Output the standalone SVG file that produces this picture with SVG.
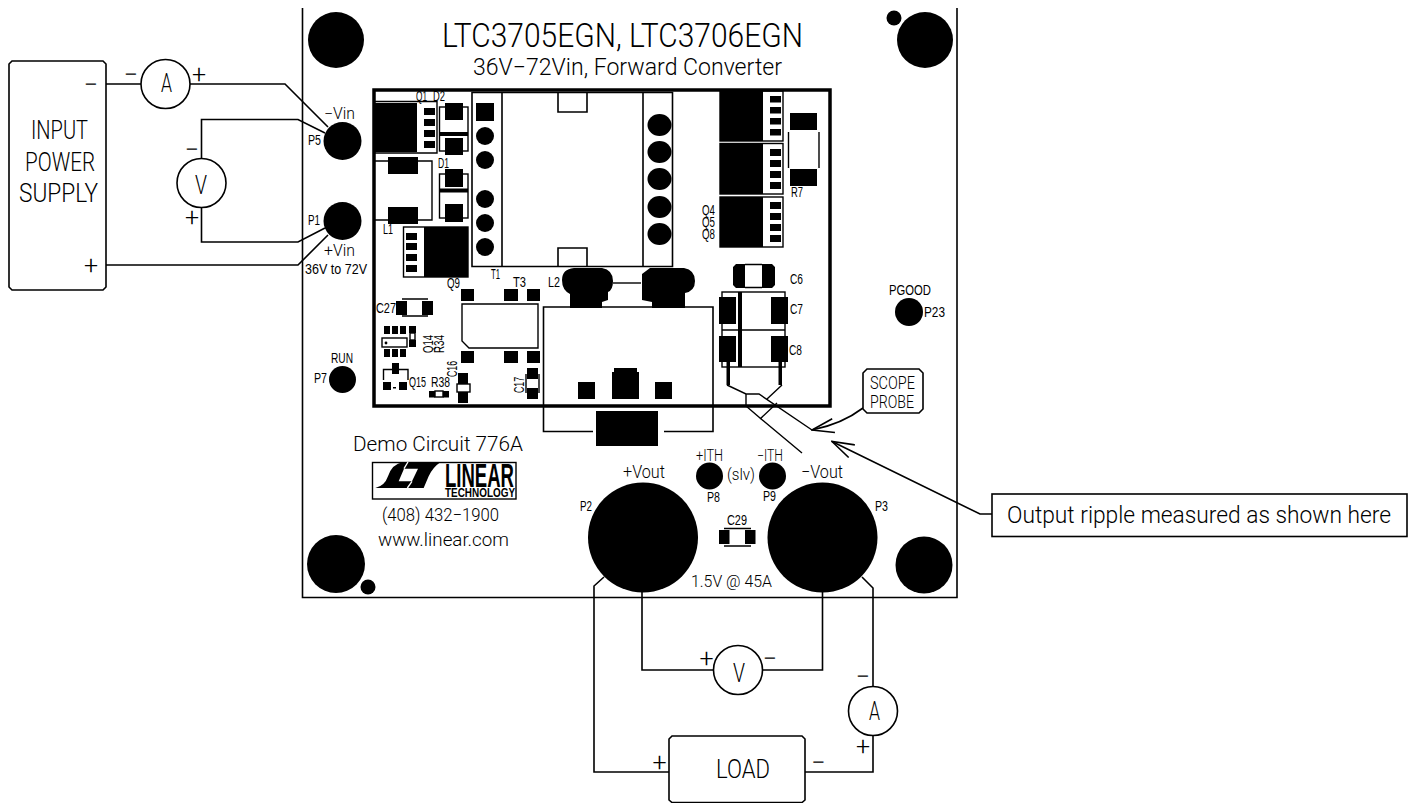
<svg xmlns="http://www.w3.org/2000/svg" width="1424" height="803" viewBox="0 0 1424 803">
<style>
text{font-family:Roboto,"Liberation Sans",Arial,sans-serif;font-weight:300;fill:#000;white-space:pre}
.s{font-family:"Liberation Sans",Arial,sans-serif;font-weight:400;font-size:14px}
.m{font-size:16px}
.l{font-size:18px}
.x{font-size:25px}
.sg{font-size:25px;text-anchor:middle}
.lg{font-family:"Liberation Sans",Arial,sans-serif;font-weight:700}
.w{fill:none;stroke:#000;stroke-width:1.6}
.o{fill:#fff;stroke:#000;stroke-width:1.6}
.n{fill:none;stroke:#000;stroke-width:1.4}
.b{fill:#000;stroke:none}
</style>
<defs>
<marker id="open" viewBox="0 0 24 16" refX="23" refY="8" markerWidth="24" markerHeight="16" markerUnits="userSpaceOnUse" orient="auto"><path d="M1 1L23 8L1 15" fill="none" stroke="#000" stroke-width="1.6"/></marker>
</defs>
<rect width="1424" height="803" fill="#fff"/>
<g id="board">
<path class="w" d="M302.5 8V597.5H957V8"/>
<circle class="b" cx="336" cy="40" r="28"/>
<circle class="b" cx="925" cy="40" r="28"/>
<circle class="b" cx="894" cy="18" r="7.5"/>
<circle class="b" cx="336" cy="564" r="29"/>
<circle class="b" cx="368" cy="587" r="7.5"/>
<circle class="b" cx="924" cy="565" r="28.5"/>
<text x="442" y="47" style="font-size:33px" textLength="361" lengthAdjust="spacingAndGlyphs">LTC3705EGN, LTC3706EGN</text>
<text x="473" y="75" style="font-size:23px" textLength="309" lengthAdjust="spacingAndGlyphs">36V−72Vin, Forward Converter</text>
</g>
<g id="connectors">
<path class="w" d="M106 84H141M190 84H285L328 127"/>
<path class="w" d="M201.5 158V119.5H298L325 133"/>
<path class="w" d="M201.5 207.5V242H298L325 228"/>
<path class="w" d="M106 265H298L328 235"/>
<path class="w" d="M642 592V670H713.5M762.5 670H822.5V592"/>
<path class="w" d="M604 577L594 586V772H669"/>
<path class="w" d="M805 772H873V735.5M873 686.5V588L862 577"/>
<path class="w" d="M863 408Q842 424 812 430" marker-end="url(#open)"/>
<path class="w" d="M992 514H980L832 441.5" marker-end="url(#open)"/>
</g>
<g id="pcb">
<g id="T1">
<path class="w" d="M472 92.5H672.5V266.5H472ZM502 92.5V266.5M643 92.5V266.5M558 92.5V112H587V92.5M558 266.5V248H587V266.5"/>
<rect class="b" x="476" y="103" width="18" height="18"/>
<circle class="b" cx="485" cy="136" r="9"/><circle class="b" cx="485" cy="160" r="9"/><circle class="b" cx="485" cy="199" r="9"/><circle class="b" cx="485" cy="223" r="9"/><circle class="b" cx="485" cy="247" r="9"/>
<ellipse class="b" cx="659.5" cy="125" rx="12" ry="11"/><ellipse class="b" cx="659.5" cy="152" rx="12" ry="11"/><ellipse class="b" cx="659.5" cy="179" rx="12" ry="11"/><ellipse class="b" cx="659.5" cy="207" rx="12" ry="11"/><ellipse class="b" cx="659.5" cy="234" rx="12" ry="11"/>
<text class="s" x="491" y="279" textLength="9" lengthAdjust="spacingAndGlyphs">T1</text>
</g>
<g id="Q1">
<path class="n" d="M375 101.5H437V153H375"/>
<rect class="b" x="375" y="103" width="42" height="49"/>
<rect class="b" x="424" y="108" width="11" height="7"/><rect class="b" x="424" y="119" width="11" height="7"/><rect class="b" x="424" y="130" width="11" height="7"/><rect class="b" x="424" y="141" width="11" height="7"/>
<text class="s" x="416" y="101" textLength="11" lengthAdjust="spacingAndGlyphs">Q1</text>
</g>
<g id="D2">
<rect class="n" x="439.5" y="107" width="28.5" height="44"/>
<rect class="b" x="445" y="103" width="18" height="17"/><rect class="b" x="445" y="138" width="18" height="17"/><rect class="b" x="439.5" y="132" width="28.5" height="4"/>
<text class="s" x="433" y="101" textLength="12" lengthAdjust="spacingAndGlyphs">D2</text>
</g>
<g id="D1">
<rect class="n" x="439.5" y="174" width="28.5" height="44"/>
<rect class="b" x="445" y="169" width="18" height="18"/><rect class="b" x="445" y="204" width="18" height="18"/><rect class="b" x="439.5" y="188.5" width="28.5" height="4"/>
<text class="s" x="438" y="168" textLength="11" lengthAdjust="spacingAndGlyphs">D1</text>
</g>
<g id="L1">
<path class="n" d="M375 161H432V220H375"/>
<rect class="b" x="388" y="157" width="30" height="17"/><rect class="b" x="388" y="207" width="30" height="17"/>
<text class="s" x="383" y="234" textLength="10" lengthAdjust="spacingAndGlyphs">L1</text>
</g>
<g id="Q9">
<rect class="n" x="403.5" y="227" width="64.5" height="50"/>
<rect class="b" x="424" y="227" width="44" height="50"/>
<rect class="b" x="406" y="233" width="11" height="7"/><rect class="b" x="406" y="243" width="11" height="7"/><rect class="b" x="406" y="254" width="11" height="7"/><rect class="b" x="406" y="265" width="11" height="7"/>
<text class="s" x="447" y="288" textLength="13" lengthAdjust="spacingAndGlyphs">Q9</text>
</g>
<g id="Q4">
<rect class="n" x="720" y="91" width="63" height="50"/><rect class="b" x="720" y="91" width="43" height="50"/>
<rect class="b" x="770" y="96" width="11" height="6.5"/><rect class="b" x="770" y="107" width="11" height="6.5"/><rect class="b" x="770" y="118" width="11" height="6.5"/><rect class="b" x="770" y="129" width="11" height="6.5"/>
<text class="s" x="702" y="215" textLength="13" lengthAdjust="spacingAndGlyphs">Q4</text>
</g>
<g id="Q5">
<rect class="n" x="720" y="143.5" width="63" height="50.5"/><rect class="b" x="720" y="143.5" width="43" height="50.5"/>
<rect class="b" x="770" y="149" width="11" height="7"/><rect class="b" x="770" y="160" width="11" height="7"/><rect class="b" x="770" y="171" width="11" height="7"/><rect class="b" x="770" y="182" width="11" height="7"/>
<text class="s" x="702" y="227" textLength="13" lengthAdjust="spacingAndGlyphs">Q5</text>
</g>
<g id="Q8">
<rect class="n" x="720" y="197" width="63" height="50"/><rect class="b" x="720" y="197" width="43" height="50"/>
<rect class="b" x="770" y="202" width="11" height="7"/><rect class="b" x="770" y="213" width="11" height="7"/><rect class="b" x="770" y="224" width="11" height="7"/><rect class="b" x="770" y="235" width="11" height="7"/>
<text class="s" x="702" y="239" textLength="13" lengthAdjust="spacingAndGlyphs">Q8</text>
</g>
<g id="R7">
<path class="n" d="M788.5 132V168M819 132V168"/>
<rect class="b" x="790" y="113" width="27" height="17"/><rect class="b" x="790" y="169" width="27" height="17"/>
<text class="s" x="791" y="197" textLength="12" lengthAdjust="spacingAndGlyphs">R7</text>
</g>
<g id="L2">
<path class="n" d="M613 283H641"/>
<path class="b" d="M570 308V294Q562 290 562 280Q562 269 574 268H602Q613 270 613 281Q613 290 608 292V300L602 302V308Z"/>
<path class="b" d="M652 308V302L642 300V274L650 268H684Q695 270 695 281Q695 291 685 293V308Z"/>
<text class="s" x="548" y="287" textLength="12" lengthAdjust="spacingAndGlyphs">L2</text>
</g>
<g id="C6">
<path class="b" d="M733 267L736 264H745V288H736L733 285ZM762 264H772L775 267V285L772 288H762Z"/>
<path class="n" d="M745 264.5H762M745 287.5H762"/>
<text class="s" x="790" y="284" textLength="13" lengthAdjust="spacingAndGlyphs">C6</text>
</g>
<g id="C7C8">
<rect class="n" x="722" y="292" width="63" height="75"/>
<path class="n" d="M722 330H785" stroke-width="2"/>
<rect class="b" x="738" y="292" width="4" height="75"/>
<rect class="b" x="719" y="297" width="17" height="27"/><rect class="b" x="771" y="297" width="17" height="27"/>
<rect class="b" x="719" y="336" width="17" height="26"/><rect class="b" x="771" y="336" width="17" height="26"/>
<rect class="b" x="726.500" y="362" width="3.5" height="23"/><rect class="b" x="778.500" y="362" width="3.500" height="23"/>
<text class="s" x="790" y="314" textLength="13" lengthAdjust="spacingAndGlyphs">C7</text>
<text class="s" x="789" y="355" textLength="13" lengthAdjust="spacingAndGlyphs">C8</text>
</g>
<g id="probe">
<path class="n" d="M727 385L746 394H759L812 430M746 394V406L760 418L802 453M760 419L777 403M782 385L767 399"/>
</g>
<g id="U">
<path class="n" d="M462 304H538V348H469L462 341Z"/>
<rect class="b" x="461" y="289" width="13" height="12"/><rect class="b" x="504" y="289" width="14" height="12"/><rect class="b" x="527" y="289" width="13" height="12"/>
<rect class="b" x="461" y="351" width="13" height="12"/><rect class="b" x="504" y="351" width="14" height="12"/><rect class="b" x="527" y="351" width="13" height="12"/>
<text class="s" x="513" y="287" textLength="13" lengthAdjust="spacingAndGlyphs">T3</text>
</g>
<g id="C27">
<path class="n" d="M402 299H428M402 316H428"/>
<rect class="b" x="396" y="301" width="11" height="14"/><rect class="b" x="422" y="301" width="11" height="14"/>
<text class="s" x="376" y="313" textLength="20" lengthAdjust="spacingAndGlyphs">C27</text>
</g>
<g id="Q14">
<rect class="n" x="382" y="338" width="25" height="9"/>
<circle class="b" cx="386" cy="343" r="1.400"/>
<rect class="b" x="384" y="326" width="6" height="8"/><rect class="b" x="392" y="326" width="6" height="8"/><rect class="b" x="400" y="326" width="6" height="8"/>
<rect class="b" x="384" y="349" width="6" height="8"/><rect class="b" x="392" y="349" width="6" height="8"/><rect class="b" x="400" y="349" width="6" height="8"/>
<text class="s" transform="rotate(-90 433 353)" x="433" y="353" textLength="18" lengthAdjust="spacingAndGlyphs">Q14</text>
</g>
<g id="R34">
<rect class="n" x="410" y="333" width="5" height="7"/>
<rect class="b" x="409" y="326" width="7" height="7"/><rect class="b" x="409" y="340" width="7" height="7"/>
<text class="s" transform="rotate(-90 444 353)" x="444" y="353" textLength="18" lengthAdjust="spacingAndGlyphs">R34</text>
</g>
<g id="Q15">
<path class="n" d="M383.500 380V369.500H408V380"/>
<rect class="b" x="392" y="363" width="7" height="11"/><rect class="b" x="383" y="382" width="8" height="8"/><rect class="b" x="399" y="382" width="8" height="8"/><rect class="b" x="393" y="387" width="3" height="1.500"/>
<text class="s" x="409" y="387" textLength="17" lengthAdjust="spacingAndGlyphs">Q15</text>
</g>
<g id="R38">
<rect class="n" x="435" y="391" width="8" height="6"/>
<rect class="b" x="429" y="391" width="6" height="6.500"/><rect class="b" x="443" y="391" width="6" height="6.500"/>
<text class="s" x="431" y="387" textLength="19" lengthAdjust="spacingAndGlyphs">R38</text>
</g>
<g id="C16">
<rect class="n" x="457" y="384" width="13" height="8"/>
<rect class="b" x="458" y="373" width="10" height="11"/><rect class="b" x="458" y="392" width="10" height="11"/>
<text class="s" transform="rotate(-90 457 377)" x="457" y="377" textLength="16" lengthAdjust="spacingAndGlyphs">C16</text>
</g>
<g id="C17">
<path class="n" d="M526 374V393M539 374V393"/>
<rect class="b" x="527" y="368" width="11" height="11"/><rect class="b" x="527" y="388" width="11" height="11"/>
<text class="s" transform="rotate(-90 524 393)" x="524" y="393" textLength="16" lengthAdjust="spacingAndGlyphs">C17</text>
</g>
<g id="outline">
<path class="w" d="M593 431.500H543.500V307H713V431.500H664"/>
<rect class="b" x="578" y="382" width="17" height="17"/><rect class="b" x="655" y="382" width="17" height="17"/>
<path class="b" d="M612 399V372L614 372V368H637V372L639 372V399Z"/>
</g>
<rect id="frame" x="374" y="90" width="456" height="316" fill="none" stroke="#000" stroke-width="3.500"/>
<rect class="b" x="596" y="411" width="62" height="35"/>
</g>
<g id="P5"><circle class="b" cx="342.500" cy="141" r="19"/><text class="s" x="308" y="145" textLength="13" lengthAdjust="spacingAndGlyphs">P5</text><text class="m" x="324" y="119" textLength="31" lengthAdjust="spacingAndGlyphs">−Vin</text></g>
<g id="P1"><circle class="b" cx="342.500" cy="221" r="19"/><text class="s" x="308" y="225" textLength="12" lengthAdjust="spacingAndGlyphs">P1</text><text class="m" x="324" y="256" textLength="31" lengthAdjust="spacingAndGlyphs">+Vin</text><text class="s" x="305" y="274" textLength="62" lengthAdjust="spacingAndGlyphs">36V to 72V</text></g>
<g id="P7"><circle class="b" cx="342.500" cy="379.500" r="13.500"/><text class="s" x="331" y="363" textLength="22" lengthAdjust="spacingAndGlyphs">RUN</text><text class="s" x="314" y="383" textLength="13" lengthAdjust="spacingAndGlyphs">P7</text></g>
<g id="P23"><circle class="b" cx="909" cy="312" r="14"/><text class="s" x="889" y="295" textLength="42" lengthAdjust="spacingAndGlyphs">PGOOD</text><text class="s" x="924" y="317" textLength="21" lengthAdjust="spacingAndGlyphs">P23</text></g>
<g id="P2"><circle class="b" cx="643" cy="537.500" r="55"/><text class="s" x="580" y="511" textLength="12" lengthAdjust="spacingAndGlyphs">P2</text><text class="l" x="623" y="478" textLength="42" lengthAdjust="spacingAndGlyphs">+Vout</text></g>
<g id="P3"><circle class="b" cx="822.500" cy="537.500" r="55"/><text class="s" x="875" y="511" textLength="13" lengthAdjust="spacingAndGlyphs">P3</text><text class="l" x="801" y="478" textLength="42" lengthAdjust="spacingAndGlyphs">−Vout</text></g>
<g id="P8"><circle class="b" cx="709.500" cy="476" r="13.500"/><text class="m" x="696" y="461" textLength="27" lengthAdjust="spacingAndGlyphs">+ITH</text><text class="s" x="707" y="502" textLength="13" lengthAdjust="spacingAndGlyphs">P8</text></g>
<g id="P9"><circle class="b" cx="772.500" cy="476" r="13.500"/><text class="m" x="757" y="461" textLength="26" lengthAdjust="spacingAndGlyphs">−ITH</text><text class="s" x="763" y="501" textLength="13" lengthAdjust="spacingAndGlyphs">P9</text></g>
<text class="m" x="727" y="480" textLength="28" lengthAdjust="spacingAndGlyphs">(slv)</text>
<g id="C29">
<path class="n" d="M724 528.500H751M724 546H751"/>
<rect class="b" x="719" y="530" width="10.500" height="14"/><rect class="b" x="745" y="530" width="10.500" height="14"/>
<text class="s" x="727" y="525" textLength="20" lengthAdjust="spacingAndGlyphs">C29</text>
</g>
<text id="rating" class="m" x="691" y="587" textLength="81" lengthAdjust="spacingAndGlyphs">1.5V @ 45A</text>
<g id="branding">
<text x="353" y="451" style="font-size:21px" textLength="170" lengthAdjust="spacingAndGlyphs">Demo Circuit 776A</text>
<rect class="n" x="372.500" y="462.500" width="143.500" height="36.500"/>
<g transform="translate(368 458) scale(.3333)">
<path class="b" fill-rule="evenodd" d="M22 90Q50 84 60 55Q72 18 105 12H218Q194 28 182 55L167 90ZM108 32H150L132 70H92Z"/>
<path d="M108 32L120 12M132 70L118 90" stroke="#fff" stroke-width="4" fill="none"/>
</g>
<text class="lg" x="445" y="487" style="font-size:33px" textLength="69" lengthAdjust="spacingAndGlyphs">LINEAR</text>
<text class="lg" x="445" y="497" style="font-size:12px" textLength="70" lengthAdjust="spacingAndGlyphs">TECHNOLOGY</text>
<text x="382" y="521" style="font-size:18px" textLength="117" lengthAdjust="spacingAndGlyphs">(408) 432−1900</text>
<text x="378" y="546" style="font-size:18px" textLength="131" lengthAdjust="spacingAndGlyphs">www.linear.com</text>
</g>
<g id="supply">
<path class="o" d="M12 61H103L106 64V287L103 290H12L9 287V64Z"/>
<text class="x" x="31" y="139" textLength="57" lengthAdjust="spacingAndGlyphs">INPUT</text>
<text class="x" x="25" y="171" textLength="70" lengthAdjust="spacingAndGlyphs">POWER</text>
<text class="x" x="19" y="202" textLength="79" lengthAdjust="spacingAndGlyphs">SUPPLY</text>
<text class="sg" x="91" y="93">−</text>
<text class="sg" x="91" y="274">+</text>
</g>
<g id="ammeter-in">
<circle class="o" cx="165.500" cy="84" r="24.500"/>
<text class="x" x="161" y="91.500" textLength="11" lengthAdjust="spacingAndGlyphs">A</text>
<text class="sg" x="131" y="83">−</text>
<text class="sg" x="199" y="83">+</text>
</g>
<g id="voltmeter-in">
<circle class="o" cx="201.500" cy="183" r="24.500"/>
<text class="x" x="195" y="194" textLength="12" lengthAdjust="spacingAndGlyphs">V</text>
<text class="sg" x="192" y="158">−</text>
<text class="sg" x="192" y="226">+</text>
</g>
<g id="voltmeter-out">
<circle class="o" cx="738" cy="670" r="24.500"/>
<text class="x" x="733" y="682" textLength="12" lengthAdjust="spacingAndGlyphs">V</text>
<text class="sg" x="706.500" y="667">+</text>
<text class="sg" x="770" y="667">−</text>
</g>
<g id="ammeter-out">
<circle class="o" cx="873" cy="711" r="24.500"/>
<text class="x" x="869" y="720" textLength="11" lengthAdjust="spacingAndGlyphs">A</text>
<text class="sg" x="863" y="685">−</text>
<text class="sg" x="863" y="755">+</text>
</g>
<g id="load">
<path class="o" d="M672 736H802L805 739V800L802 802.500H672L669 800V739Z"/>
<text class="x" x="716" y="778" textLength="54" lengthAdjust="spacingAndGlyphs">LOAD</text>
<text class="sg" x="659.500" y="771">+</text>
<text class="sg" x="818.500" y="771">−</text>
</g>
<g id="scope-probe">
<path class="o" d="M867 369H919L923 373V409L919 413H867L863 409V373Z"/>
<text class="l" x="870" y="389" textLength="45" lengthAdjust="spacingAndGlyphs">SCOPE</text>
<text class="l" x="870" y="408" textLength="44" lengthAdjust="spacingAndGlyphs">PROBE</text>
</g>
<g id="note">
<rect class="o" x="992" y="494" width="415" height="42.500"/>
<text x="1007" y="523" style="font-size:24px" textLength="384" lengthAdjust="spacingAndGlyphs">Output ripple measured as shown here</text>
</g>
</svg>
